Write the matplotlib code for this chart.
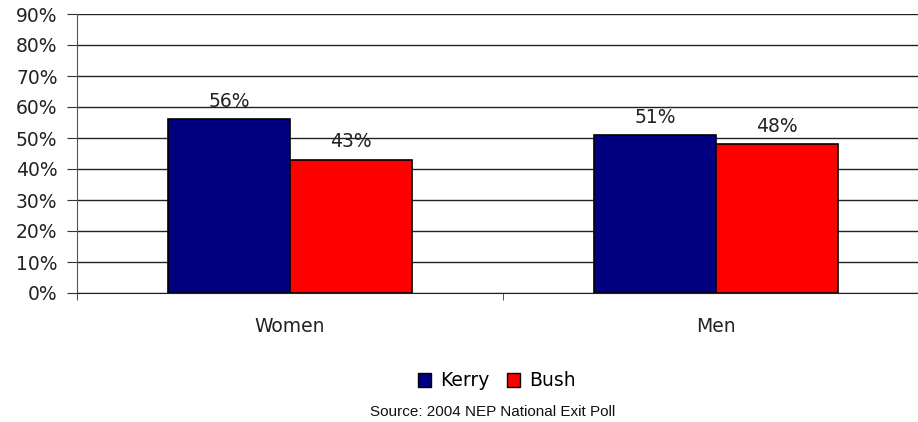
import matplotlib
matplotlib.use("Agg")
import matplotlib.pyplot as plt
from matplotlib.patches import Patch
import numpy as np

# Datos
categories = ["Women", "Men"]
kerry = [56, 51]
bush = [43, 48]
y_ticks = [0, 10, 20, 30, 40, 50, 60, 70, 80, 90]
source_text = "Source: 2004 NEP National Exit Poll"

KERRY_COLOR = "#000080"
BUSH_COLOR = "#FF0000"
FS = 13.5

plt.rcParams["font.family"] = "DejaVu Sans"

fig = plt.figure(figsize=(9.18, 4.22), dpi=100)
# el área de trazado sobrepasa el borde derecho como en el original
ax = fig.add_axes([77 / 918, 1 - 293 / 422, 852 / 918, 279 / 422])

x = np.arange(len(categories))
w = 0.286
ax.bar(x - w / 2, kerry, w, color=KERRY_COLOR, edgecolor="black", linewidth=1.2, zorder=3)
ax.bar(x + w / 2, bush, w, color=BUSH_COLOR, edgecolor="black", linewidth=1.2, zorder=3)

for xi, v in zip(x - w / 2, kerry):
    ax.annotate(f"{v}%", (xi, v), xytext=(0, 6), textcoords="offset points",
                ha="center", va="bottom", fontsize=FS, color="#222222")
for xi, v in zip(x + w / 2, bush):
    ax.annotate(f"{v}%", (xi, v), xytext=(0, 6), textcoords="offset points",
                ha="center", va="bottom", fontsize=FS, color="#222222")

ax.set_xlim(-0.5, 1.5)
ax.set_ylim(0, 90)
ax.set_yticks(y_ticks)
ax.set_yticklabels([f"{t}%" for t in y_ticks], fontsize=FS, color="#222222")
ax.set_xticks(x)
ax.set_xticklabels(categories, fontsize=FS, color="#222222")
ax.tick_params(axis="x", length=0, pad=17)
ax.set_xticks([-0.5, 0.5, 1.5], minor=True)
ax.tick_params(axis="x", which="minor", length=5, color="#333333")
ax.tick_params(axis="y", length=7, color="#333333", pad=7)

ax.grid(axis="y", color="#222222", linewidth=1.0, zorder=0)
ax.set_axisbelow(True)
for s in ["top", "right"]:
    ax.spines[s].set_visible(False)
ax.spines["left"].set_color("#555555")
ax.spines["left"].set_bounds(-1.7, 90)
ax.spines["bottom"].set_color("#222222")

handles = [Patch(facecolor=KERRY_COLOR, edgecolor="black", label="Kerry"),
           Patch(facecolor=BUSH_COLOR, edgecolor="black", label="Bush")]
fig.legend(handles=handles, loc="center", bbox_to_anchor=(497 / 918, 1 - 381 / 422),
           ncol=2, frameon=False, fontsize=FS, handlelength=0.7, handleheight=0.7,
           handletextpad=0.5, columnspacing=0.9)

fig.text(493 / 918, 1 - 412 / 422, source_text, ha="center", va="center",
         fontsize=11, family="Liberation Sans", color="#111111")

fig.savefig("out.png", dpi=100)
